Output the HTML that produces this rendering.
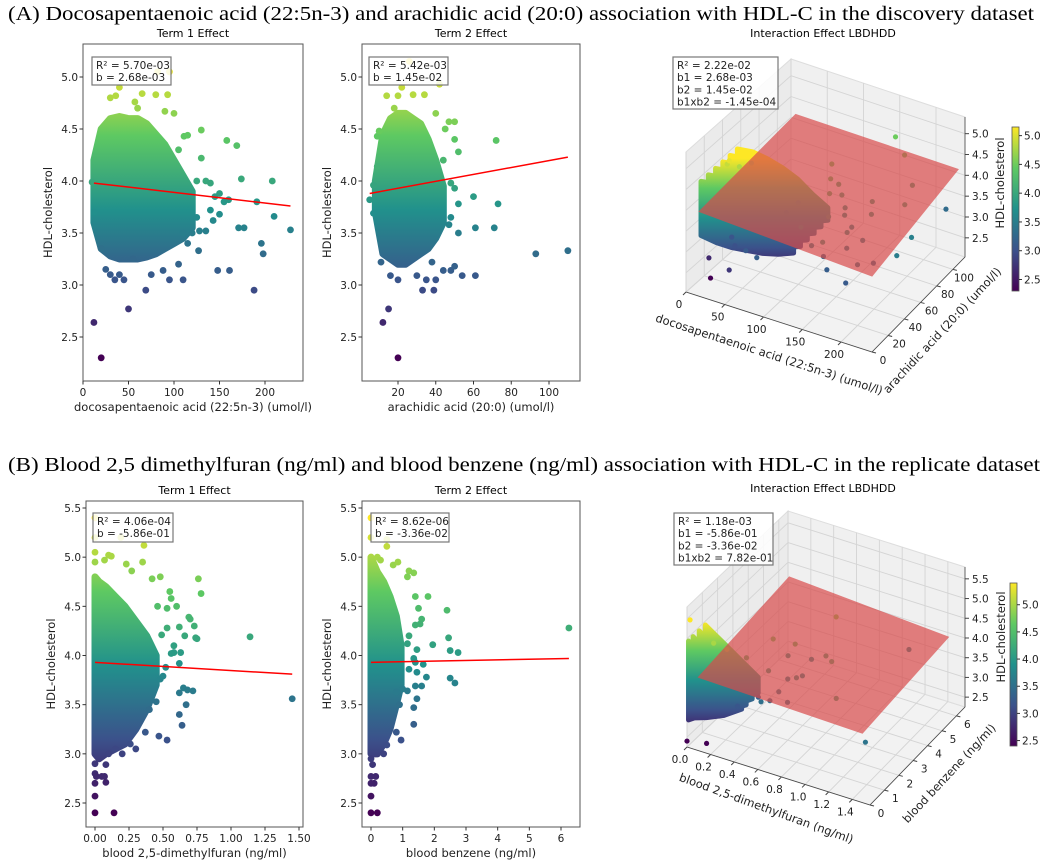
<!DOCTYPE html>
<html><head><meta charset="utf-8">
<style>
html,body{margin:0;padding:0;background:#fff;}
svg{display:block;}
</style></head>
<body>
<svg id="fig" width="1050" height="863" viewBox="0 0 1050 863" xmlns="http://www.w3.org/2000/svg">
<defs id="defs"></defs>
<text x="8" y="20" font-family="Liberation Serif, serif" font-size="20" textLength="1026" lengthAdjust="spacingAndGlyphs">(A)  Docosapentaenoic acid (22:5n-3) and arachidic acid (20:0) association with HDL-C in the discovery dataset</text>
<text x="8" y="471" font-family="Liberation Serif, serif" font-size="20" textLength="1032" lengthAdjust="spacingAndGlyphs">(B)  Blood 2,5 dimethylfuran (ng/ml) and blood benzene (ng/ml) association with HDL-C in the replicate dataset</text>
</svg>
<script>
// ===== Panel A1 data (docosapentaenoic acid vs HDL) =====
const a1CoreX  = [12,20,30,40,50,60,70,80,90,100,110,120];
const a1CoreLo = [3.6,3.35,3.28,3.25,3.25,3.25,3.27,3.3,3.35,3.4,3.45,3.55];
const a1CoreHi = [4.2,4.5,4.6,4.62,4.6,4.6,4.55,4.45,4.35,4.2,4.05,3.9];
const a1X = [12,20,50,69,188,148,161,210,228,196,198,171,177,191,174,208,158,169,130,111,115,82,95,80,93,65,30,36,40,57,60,100,90,105,125,130,135,140,150,155,140,150,143,128,135,125,110,105,95,110,88,75,40,30,25,55,35,45,127,115,120,20,10,12,160,145];
const a1Y = [2.64,2.3,2.77,2.95,2.95,3.14,3.14,3.66,3.53,3.4,3.3,3.55,3.55,3.8,4.02,4.0,4.39,4.34,4.49,4.43,4.44,5.05,5.05,4.83,4.83,4.84,4.8,4.82,4.9,4.76,4.7,4.65,4.67,4.3,4.0,4.22,4.0,3.98,3.88,3.8,3.72,3.68,3.62,3.52,3.52,3.65,3.5,3.2,3.05,3.05,3.14,3.1,3.1,3.1,3.15,3.25,3.05,3.05,3.33,3.4,3.5,3.35,3.99,3.7,3.82,3.85];
const a1LineX = [12,228];
const a1LineY = [3.98,3.76];
const a1XTicks = [0,50,100,150,200];
const aYTicks = [2.5,3.0,3.5,4.0,4.5,5.0];
// ===== Panel A2 data (arachidic acid vs HDL) =====
const a2CoreX  = [8,12,16,20,24,28,32,36,40,44];
const a2CoreLo = [3.7,3.3,3.25,3.2,3.2,3.25,3.3,3.35,3.45,3.6];
const a2CoreHi = [4.0,4.45,4.6,4.65,4.65,4.6,4.55,4.4,4.2,3.95];
const a2X = [20,12,15,33,39,16,20,30,35,40,44,48,50,54,61,93,110,61,71,52,60,73,52,72,50,50,52,47,45,44,48,50,48,47,5,7,9,10,9,7,14,20,28,34,18,22,26,40,42,11,38];
const a2Y = [2.3,2.64,2.77,2.95,2.95,3.09,3.05,3.09,3.05,3.05,3.14,3.14,3.18,3.09,3.09,3.3,3.33,3.55,3.55,3.5,3.85,3.78,3.78,4.39,4.57,4.4,4.28,4.57,4.5,4.2,3.98,3.93,3.65,3.58,3.82,3.69,4.43,4.48,4.14,3.96,4.82,4.82,4.83,4.83,4.7,4.9,5.15,4.65,4.93,3.22,3.22];
const a2LineX = [5,110];
const a2LineY = [3.88,4.23];
const a2XTicks = [20,40,60,80,100];
// ===== Panel B1 data (2,5-dimethylfuran vs HDL) =====
const b1CoreX  = [0,0.03,0.08,0.15,0.22,0.3,0.38,0.45];
const b1CoreLo = [3.0,2.95,3.0,3.05,3.1,3.25,3.45,3.7];
const b1CoreHi = [4.8,4.75,4.7,4.6,4.5,4.35,4.2,4.0];
const b1X = [0,0,0,0,0,0,0,0,0,0.01,0.05,0.07,0.08,0.08,0.14,0.19,0.36,0.35,0.23,0.27,0.1,0.12,0.07,0.48,0.42,0.55,0.56,0.53,0.6,0.46,0.69,0.7,0.73,0.62,0.66,0.74,0.75,0.76,0.78,1.14,1.45,0.63,0.58,0.56,0.62,0.52,0.48,0.5,0.65,0.68,0.72,0.62,0.67,0.62,0.64,0.53,0.47,0.37,0.4,0.3,0.2,0.15,0.1,0.26,0.45,0.53,0.58,0.49];
const b1Y = [5.4,5.2,5.05,4.95,2.9,2.8,2.7,2.57,2.4,2.77,2.77,2.77,2.71,2.89,2.4,5.2,5.12,4.95,4.93,4.86,5.02,5.01,4.97,4.8,4.78,4.65,4.58,4.48,4.5,4.5,4.39,4.37,4.3,4.29,4.2,4.18,4.17,4.78,4.63,4.19,3.56,4.03,4.03,4.02,3.92,3.88,3.76,3.79,3.67,3.65,3.64,3.62,3.5,3.4,3.29,3.14,3.18,3.22,3.45,3.05,3.0,3.05,3.0,3.1,3.53,4.28,4.1,4.21];
const b1LineX = [0,1.45];
const b1LineY = [3.93,3.81];
const b1XTicks = [0,0.25,0.5,0.75,1.0,1.25,1.5];
const b1XLabels = ['0.00','0.25','0.50','0.75','1.00','1.25','1.50'];
const bYTicks = [2.5,3.0,3.5,4.0,4.5,5.0,5.5];
// ===== Panel B2 data (benzene vs HDL) =====
const b2CoreX  = [0,0.2,0.4,0.6,0.8,0.95];
const b2CoreLo = [3.0,3.0,3.1,3.25,3.5,3.7];
const b2CoreHi = [5.0,4.85,4.75,4.6,4.4,4.1];
const b2X = [0,0,0,0.2,0,0,0.1,0.15,0,0.05,0,0.4,0.5,0.8,0.95,0.5,0.5,0.2,0.3,0.7,0.85,1.2,1.35,1.15,1.4,1.8,1.5,1.6,1.4,1.55,2.4,6.25,2.45,1.95,2.5,2.75,1.2,1.15,1.45,1.35,1.4,1.65,1.45,1.2,1.75,2.5,2.65,1.4,1.6,1.45,1.35,1.35,1.15,1.0,0.9,0.8];
const b2Y = [5.4,5.2,2.4,2.4,2.57,2.7,2.7,2.77,2.77,2.89,2.95,3.0,3.09,3.22,3.14,5.11,5.18,5.0,4.97,4.92,4.95,4.86,4.84,4.8,4.6,4.6,4.48,4.37,4.31,4.32,4.46,4.28,4.18,4.11,4.05,4.03,4.2,4.12,4.06,3.97,3.93,3.91,3.83,3.86,3.78,3.77,3.72,3.69,3.69,3.56,3.47,3.3,3.64,3.66,3.5,3.63];
const b2LineX = [0,6.25];
const b2LineY = [3.93,3.97];
const b2XTicks = [0,1,2,3,4,5,6];
// ===== 3D panel A data =====
const a3CoreX  = [10,30,50,70,90,110,130];
const a3CoreLo = [3.3,3.25,3.25,3.3,3.35,3.45,3.6];
const a3CoreHi = [4.6,4.65,4.6,4.5,4.35,4.1,3.9];
const a3CoreYs = [8,16,24,32,40,48];
const a3X = [200,210,190,230,170,175,160,150,140,228,208,196,174,150,225,120,130,110,20,12,50,40,60,30,80,40,30,35,50,100,90,115,140,160,150,165,180,135,145,125,170,185];
const a3Y = [20,30,15,40,35,30,20,25,40,60,70,90,100,110,105,60,50,70,10,15,5,20,15,25,10,25,20,18,30,40,35,30,20,15,50,45,55,60,55,65,65,40];
const a3Z = [3.5,3.4,3.1,3.5,3.8,3.55,3.14,3.3,3.9,3.53,4.0,4.0,4.4,4.5,3.3,4.3,4.2,4.4,2.3,2.64,2.77,3.0,3.1,3.05,3.15,4.8,4.9,5.05,4.85,4.0,3.8,3.7,3.6,3.9,3.8,3.7,3.9,4.0,3.85,4.1,3.95,3.6];
const a3PlaneX = [10,235];
const a3PlaneY = [5,112];
const a3PlaneZ = [3.93,3.72,4.18,4.2]; // corners (x0,y0),(x1,y0),(x1,y1),(x0,y1)
const a3XTicks = [0,50,100,150,200];
const a3YTicks = [0,20,40,60,80,100];
const a3ZTicks = [2.5,3.0,3.5,4.0,4.5,5.0];
// ===== 3D panel B data =====
const b3CoreX  = [0,0.05,0.15,0.3,0.45];
const b3CoreLo = [2.9,3.0,3.1,3.3,3.6];
const b3CoreHi = [4.9,4.8,4.6,4.3,4.0];
const b3CoreYs = [0.1,0.4,0.8,1.2];
const b3X = [0,0.3,0.2,0,0.14,0.5,0.7,1.45,1.14,0.76,0.6,0.8,0.9,0.7,0.5,0.6,0.4,0.3,0.55,1.2,0.35,0.45,0.65,0.5,0.6,0.7];
const b3Y = [0.2,0.3,0.2,0,0.2,1,1.2,0.5,1,4,2.5,3,2.6,1.8,1.5,2.0,1.6,1.0,1.2,5.5,1.2,2.2,3.2,2.8,1.4,2.2];
const b3Z = [5.4,4.9,5.0,2.4,2.4,3.5,3.6,3.56,4.19,4.78,4.5,4.2,4.3,4.0,4.1,3.8,3.3,3.2,3.5,3.8,4.4,4.6,3.9,4.0,3.7,3.9];
const b3PlaneX = [0.05,1.45];
const b3PlaneY = [0.3,6.3];
const b3PlaneZ = [3.95,3.85,4.05,4.3];
const b3XTicks = [0,0.2,0.4,0.6,0.8,1.0,1.2,1.4];
const b3XLabels = ['0.0','0.2','0.4','0.6','0.8','1.0','1.2','1.4'];
const b3YTicks = [0,1,2,3,4,5,6];
const b3ZTicks = [2.5,3.0,3.5,4.0,4.5,5.0,5.5];
const aCbTicks = [2.5,3.0,3.5,4.0,4.5,5.0];
const bCbTicks = [2.5,3.0,3.5,4.0,4.5,5.0];

const NS='http://www.w3.org/2000/svg';
const svg=document.getElementById('fig');
const defs=document.getElementById('defs');
const FONT='DejaVu Sans, Liberation Sans, sans-serif';
function mk(tag,attrs,parent){const e=document.createElementNS(NS,tag);for(const k in attrs)e.setAttribute(k,attrs[k]);(parent||svg).appendChild(e);return e;}
const VS=[[68,1,84],[59,82,139],[33,145,140],[94,201,98],[253,231,37]];
function viridis(t){t=Math.max(0,Math.min(1,t));const s=t*4,i=Math.min(3,Math.floor(s)),f=s-i;const a=VS[i],b=VS[i+1];return 'rgb('+a.map((v,k)=>Math.round(v+(b[k]-v)*f)).join(',')+')';}
function lin(d0,d1,r0,r1){return v=>r0+(v-d0)*(r1-r0)/(d1-d0);}
let gid=0;
function vGrad(y1,y2){const id='g'+(gid++);const g=mk('linearGradient',{id:id,gradientUnits:'userSpaceOnUse',x1:0,y1:y1,x2:0,y2:y2},defs);for(let i=0;i<=8;i++){mk('stop',{offset:i/8,'stop-color':viridis(1-i/8)},g);}return 'url(#'+id+')';}

function draw2D(c){
  const g=mk('g',{});
  
  
  const sx=lin(c.xd[0],c.xd[1],c.xr[0],c.xr[1]);
  const sy=lin(c.yd[0],c.yd[1],c.yr[0],c.yr[1]);
  const t=mk('text',{x:(c.box[0]+c.box[2])/2,y:c.box[1]-7,'text-anchor':'middle','font-family':FONT,'font-size':11},g);
  t.textContent=c.title;
  
  
  const fill=vGrad(sy(c.cmax),sy(c.cmin));
  let pts=[];
  for(let i=0;i<c.coreX.length;i++)pts.push(sx(c.coreX[i])+','+sy(c.coreHi[i]));
  for(let i=c.coreX.length-1;i>=0;i--)pts.push(sx(c.coreX[i])+','+sy(c.coreLo[i]));
  const core=mk('polygon',{points:pts.join(' '),fill:fill,stroke:fill,'stroke-width':7,'stroke-linejoin':'round'},g);
  
  
  for(let i=0;i<c.px.length;i++){
    const d=mk('circle',{cx:sx(c.px[i]),cy:sy(c.py[i]),r:3.4,fill:viridis((c.py[i]-c.cmin)/(c.cmax-c.cmin))},g);
    
    
  }
  const ln=mk('line',{x1:sx(c.lx[0]),y1:sy(c.ly[0]),x2:sx(c.lx[1]),y2:sy(c.ly[1]),stroke:'#ff0000','stroke-width':1.5},g);
  
  
  const fr=mk('rect',{x:c.box[0],y:c.box[1],width:c.box[2]-c.box[0],height:c.box[3]-c.box[1],fill:'none',stroke:'#555','stroke-width':1},g);
  
  
  c.xt.forEach((v,i)=>{const x=sx(v);mk('line',{x1:x,x2:x,y1:c.box[3],y2:c.box[3]+3.5,stroke:'#333'},g);
    const tx=mk('text',{x:x,y:c.box[3]+15,'text-anchor':'middle','font-family':FONT,'font-size':10.5,fill:'#222'},g);tx.textContent=c.xl?c.xl[i]:String(v);
    
    });
  c.yt.forEach(v=>{const y=sy(v);mk('line',{x1:c.box[0]-3.5,x2:c.box[0],y1:y,y2:y,stroke:'#333'},g);
    const ty=mk('text',{x:c.box[0]-5,y:y+4,'text-anchor':'end','font-family':FONT,'font-size':10.5,fill:'#222'},g);ty.textContent=v.toFixed(1);
    
    });
  const xl=mk('text',{x:(c.box[0]+c.box[2])/2,y:c.box[3]+30,'text-anchor':'middle','font-family':FONT,'font-size':11.5,fill:'#222'},g);xl.textContent=c.xlabel;
  
  
  const cy=(c.box[1]+c.box[3])/2;
  const yl=mk('text',{x:c.box[0]-31,y:cy,'text-anchor':'middle','font-family':FONT,'font-size':11.5,fill:'#222',transform:'rotate(-90 '+(c.box[0]-31)+' '+cy+')'},g);yl.textContent='HDL-cholesterol';
  
  
  statBox(g,c.stat,c.stats);
}
function statBox(g,b,lines){
  const r=mk('rect',{x:b[0],y:b[1],width:b[2]-b[0],height:b[3]-b[1],fill:'#fff','fill-opacity':0.85,stroke:'#777','stroke-width':1.2},g);
  
  
  lines.forEach((s,i)=>{const t=mk('text',{x:b[0]+4,y:b[1]+12+i*12.2,'font-family':FONT,'font-size':10.5,fill:'#222'},g);t.textContent=s;
    
    });
}

draw2D({name:'term1-effect-a',title:'Term 1 Effect',box:[83,44,303,381],xd:[0,200],xr:[83,265],yd:[2.5,5.0],yr:[337,77],cmin:2.3,cmax:5.15,
 coreX:a1CoreX,coreLo:a1CoreLo,coreHi:a1CoreHi,px:a1X,py:a1Y,lx:a1LineX,ly:a1LineY,xt:a1XTicks,yt:aYTicks,
 xlabel:'docosapentaenoic acid (22:5n-3) (umol/l)',stat:[92,57,171,85],stats:['R² = 5.70e-03','b = 2.68e-03']});
draw2D({name:'term2-effect-a',title:'Term 2 Effect',box:[362,44,580,381],xd:[20,100],xr:[398,549],yd:[2.5,5.0],yr:[337,77],cmin:2.3,cmax:5.15,
 coreX:a2CoreX,coreLo:a2CoreLo,coreHi:a2CoreHi,px:a2X,py:a2Y,lx:a2LineX,ly:a2LineY,xt:a2XTicks,yt:aYTicks,
 xlabel:'arachidic acid (20:0) (umol/l)',stat:[369,57,448,85],stats:['R² = 5.42e-03','b = 1.45e-02']});
draw2D({name:'term1-effect-b',title:'Term 1 Effect',box:[86,501,303,827],xd:[0,1.5],xr:[95,299],yd:[2.5,5.5],yr:[803,508],cmin:2.4,cmax:5.4,
 coreX:b1CoreX,coreLo:b1CoreLo,coreHi:b1CoreHi,px:b1X,py:b1Y,lx:b1LineX,ly:b1LineY,xt:b1XTicks,xl:b1XLabels,yt:bYTicks,
 xlabel:'blood 2,5-dimethylfuran (ng/ml)',stat:[93,513,173,542],stats:['R² = 4.06e-04','b = -5.86e-01']});
draw2D({name:'term2-effect-b',title:'Term 2 Effect',box:[362,501,580,827],xd:[0,6],xr:[371,561],yd:[2.5,5.5],yr:[803,508],cmin:2.4,cmax:5.4,
 coreX:b2CoreX,coreLo:b2CoreLo,coreHi:b2CoreHi,px:b2X,py:b2Y,lx:b2LineX,ly:b2LineY,xt:b2XTicks,yt:bYTicks,
 xlabel:'blood benzene (ng/ml)',stat:[371,513,449,542],stats:['R² = 8.62e-06','b = -3.36e-02']});

function draw3D(c){
  const g=mk('g',{});
  
  
  const [A,B,C,D]=c.floor,H=c.H;
  function P(x,y,z){const u=(x-c.xd[0])/(c.xd[1]-c.xd[0]),v=(y-c.yd[0])/(c.yd[1]-c.yd[0]),w=(z-c.zd[0])/(c.zd[1]-c.zd[0]);
    const px=A[0]*(1-u)*(1-v)+B[0]*u*(1-v)+C[0]*u*v+D[0]*(1-u)*v;
    const py=A[1]*(1-u)*(1-v)+B[1]*u*(1-v)+C[1]*u*v+D[1]*(1-u)*v;
    return [px,py-w*H];}
  const [x0,x1]=c.xd,[y0,y1]=c.yd,[z0,z1]=c.zd;
  const poly=(ps,attrs)=>mk('polygon',Object.assign({points:ps.map(p=>p.join(',')).join(' ')},attrs),g);
  const fl=poly([P(x0,y0,z0),P(x1,y0,z0),P(x1,y1,z0),P(x0,y1,z0)],{fill:'#f2f2f2',stroke:'#ddd'});
  
  
  const lw=poly([P(x0,y0,z0),P(x0,y1,z0),P(x0,y1,z1),P(x0,y0,z1)],{fill:'#ebebeb',stroke:'#ddd'});
  
  
  const bw=poly([P(x0,y1,z0),P(x1,y1,z0),P(x1,y1,z1),P(x0,y1,z1)],{fill:'#f0f0f0',stroke:'#ddd'});
  
  
  const L=(p,q)=>mk('line',{x1:p[0],y1:p[1],x2:q[0],y2:q[1],stroke:'#d4d4d4','stroke-width':0.9},g);
  c.xt.forEach(v=>{L(P(v,y0,z0),P(v,y1,z0));L(P(v,y1,z0),P(v,y1,z1));});
  c.yt.forEach(v=>{L(P(x0,v,z0),P(x1,v,z0));L(P(x0,v,z0),P(x0,v,z1));});
  c.zt.forEach(v=>{L(P(x0,y0,v),P(x0,y1,v));L(P(x0,y1,v),P(x1,y1,v));});
  // core cloud slices
  const pTop=P(c.coreX[0],c.coreYs[0],c.cmax),pBot=P(c.coreX[0],c.coreYs[0],c.cmin);
  const fill=vGrad(pTop[1],pBot[1]);
  c.coreYs.forEach(cy=>{
    let pts=[];
    for(let i=0;i<c.coreX.length;i++)pts.push(P(c.coreX[i],cy,c.coreHi[i]));
    for(let i=c.coreX.length-1;i>=0;i--)pts.push(P(c.coreX[i],cy,c.coreLo[i]));
    const core=poly(pts,{fill:fill,stroke:fill,'stroke-width':5,'stroke-linejoin':'round'});
    
    
  });
  for(let i=0;i<c.px.length;i++){const p=P(c.px[i],c.py[i],c.pz[i]);
    const d=mk('circle',{cx:p[0],cy:p[1],r:2.6,fill:viridis((c.pz[i]-c.cmin)/(c.cmax-c.cmin))},g);
    
    }
  const pz=c.planeZ,[qx0,qx1]=c.planeX,[qy0,qy1]=c.planeY;
  const pl=poly([P(qx0,qy0,pz[0]),P(qx1,qy0,pz[1]),P(qx1,qy1,pz[2]),P(qx0,qy1,pz[3])],{fill:'#d94a4a','fill-opacity':0.7});
  
  
  const E=(p,q)=>mk('line',{x1:p[0],y1:p[1],x2:q[0],y2:q[1],stroke:'#444','stroke-width':0.8},g);
  E(P(x0,y0,z0),P(x1,y0,z0));E(P(x1,y0,z0),P(x1,y1,z0));E(P(x1,y1,z0),P(x1,y1,z1));
  c.xt.forEach((v,i)=>{const p=P(v,y0,z0);mk('line',{x1:p[0],y1:p[1],x2:p[0]-3,y2:p[1]+3,stroke:'#444'},g);
    const t=mk('text',{x:p[0]-7,y:p[1]+16,'text-anchor':'middle','font-family':FONT,'font-size':10.5,fill:'#222'},g);t.textContent=c.xl?c.xl[i]:String(v);
    
    });
  c.yt.forEach(v=>{const p=P(x1,v,z0);mk('line',{x1:p[0],y1:p[1],x2:p[0]+4,y2:p[1]+1,stroke:'#444'},g);
    const t=mk('text',{x:p[0]+11,y:p[1]+12,'text-anchor':'middle','font-family':FONT,'font-size':10.5,fill:'#222'},g);t.textContent=String(v);
    
    });
  c.zt.forEach(v=>{const p=P(x1,y1,v);mk('line',{x1:p[0],y1:p[1],x2:p[0]+4,y2:p[1],stroke:'#444'},g);
    const t=mk('text',{x:p[0]+7,y:p[1]+4,'font-family':FONT,'font-size':10.5,fill:'#222'},g);t.textContent=v.toFixed(1);
    
    });
  const lab=(txt,x,y,rot,nm)=>{const t=mk('text',{x:x,y:y,'text-anchor':'middle','font-family':FONT,'font-size':11.5,fill:'#222',transform:'rotate('+rot+' '+x+' '+y+')'},g);t.textContent=txt;
    
    };
  lab(c.xlabel,c.xlp[0],c.xlp[1],c.xlp[2],'x-axis-title');
  lab(c.ylabel,c.ylp[0],c.ylp[1],c.ylp[2],'y-axis-title');
  lab('HDL-cholesterol',c.zlp[0],c.zlp[1],-90,'z-axis-title');
  const ti=mk('text',{x:823,y:c.titleY,'text-anchor':'middle','font-family':FONT,'font-size':11},g);ti.textContent='Interaction Effect LBDHDD';
  
  
  statBox(g,c.stat,c.stats);
  const cb=c.cb;const cbFill=vGrad(cb[1],cb[3]);
  const r=mk('rect',{x:cb[0],y:cb[1],width:7,height:cb[3]-cb[1],fill:cbFill,stroke:'#555','stroke-width':0.8},g);
  
  
  const cy=lin(c.cmin,c.cmax,cb[3],cb[1]);
  c.cbt.forEach(v=>{const y=cy(v);mk('line',{x1:cb[0]+7,x2:cb[0]+10,y1:y,y2:y,stroke:'#333'},g);
    const t=mk('text',{x:cb[0]+12,y:y+4,'font-family':FONT,'font-size':10.5,fill:'#222'},g);t.textContent=v.toFixed(1);
    
    });
}
draw3D({name:'interaction-effect-a',floor:[[686,292],[872,352],[965,257],[791,199]],H:140,xd:[0,240],yd:[0,115],zd:[2.04,5.4],
 coreX:a3CoreX,coreLo:a3CoreLo,coreHi:a3CoreHi,coreYs:a3CoreYs,px:a3X,py:a3Y,pz:a3Z,planeX:a3PlaneX,planeY:a3PlaneY,planeZ:a3PlaneZ,cmin:2.3,cmax:5.15,
 xt:a3XTicks,yt:a3YTicks,zt:a3ZTicks,xlabel:'docosapentaenoic acid (22:5n-3) (umol/l)',ylabel:'arachidic acid (20:0) (umol/l)',
 xlp:[768,358,18],ylp:[945,333,-47],zlp:[1004,183],titleY:37,stat:[673,57,778,109],
 stats:['R² = 2.22e-02','b1 = 2.68e-03','b2 = 1.45e-02','b1xb2 = -1.45e-04'],cb:[1012,127,1019,291],cbt:aCbTicks});
draw3D({name:'interaction-effect-b',floor:[[687,747],[870,805],[965,707],[788,651]],H:140,xd:[0,1.55],yd:[0,6.6],zd:[2.25,5.8],
 coreX:b3CoreX,coreLo:b3CoreLo,coreHi:b3CoreHi,coreYs:b3CoreYs,px:b3X,py:b3Y,pz:b3Z,planeX:b3PlaneX,planeY:b3PlaneY,planeZ:b3PlaneZ,cmin:2.4,cmax:5.4,
 xt:b3XTicks,xl:b3XLabels,yt:b3YTicks,zt:b3ZTicks,xlabel:'blood 2,5-dimethylfuran (ng/ml)',ylabel:'blood benzene (ng/ml)',
 xlp:[765,812,20],ylp:[952,776,-47],zlp:[1005,637],titleY:492,stat:[674,513,773,565],
 stats:['R² = 1.18e-03','b1 = -5.86e-01','b2 = -3.36e-02','b1xb2 = 7.82e-01'],cb:[1010,583,1017,746],cbt:bCbTicks});
</script>
</body></html>
